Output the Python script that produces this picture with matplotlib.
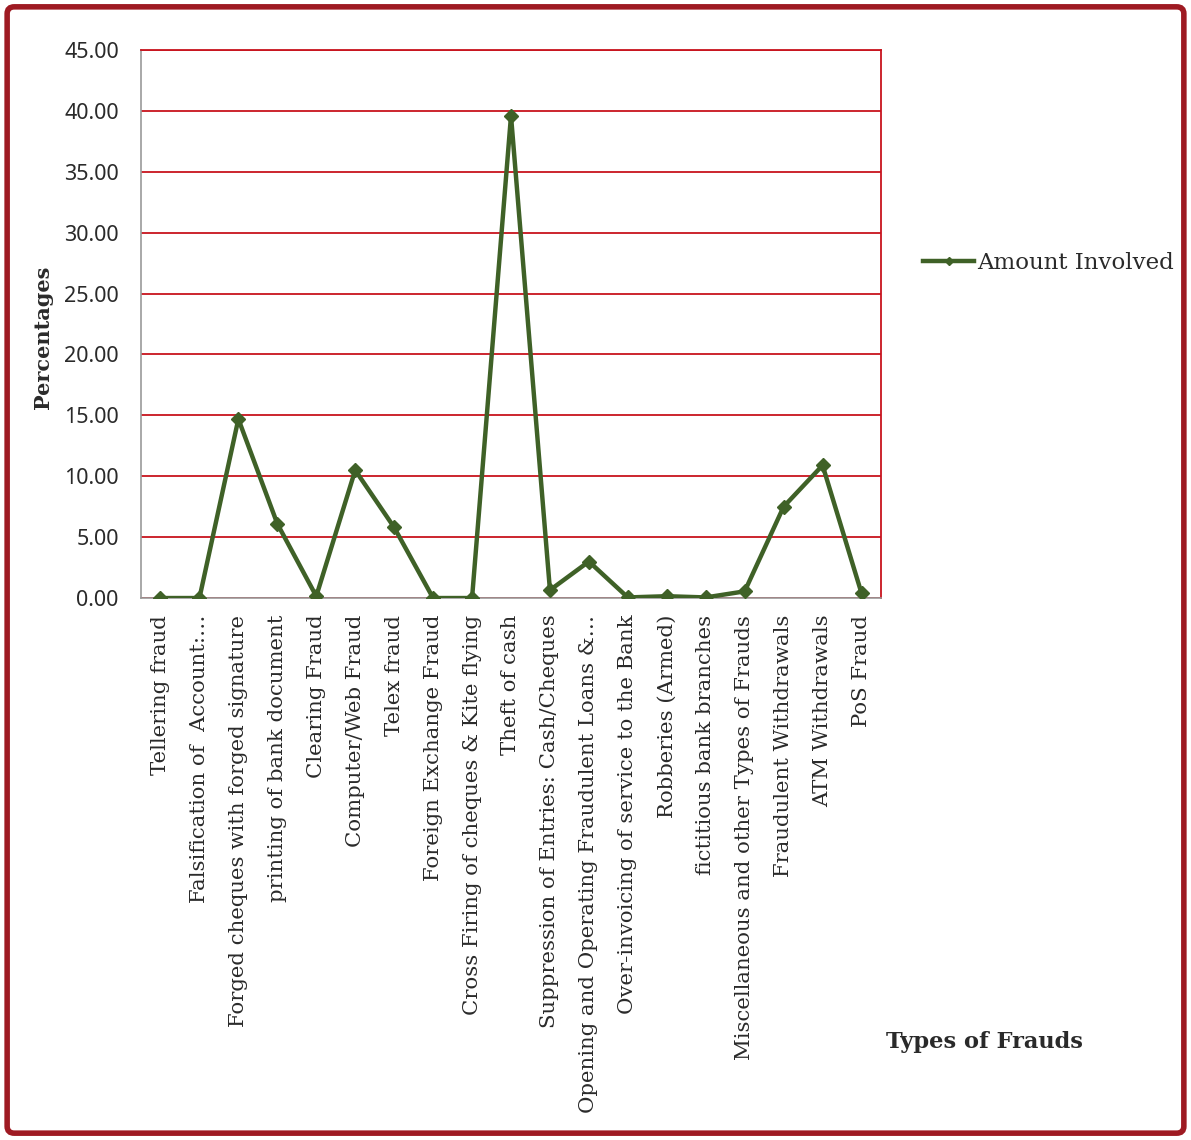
import matplotlib
matplotlib.use("Agg")
import matplotlib.pyplot as plt
from matplotlib.patches import FancyBboxPatch

categories = [
    "Tellering fraud",
    "Falsification of  Account:\u2026",
    "Forged cheques with forged signature",
    "printing of bank document",
    "Clearing Fraud",
    "Computer/Web Fraud",
    "Telex fraud",
    "Foreign Exchange Fraud",
    "Cross Firing of cheques & Kite flying",
    "Theft of cash",
    "Suppression of Entries: Cash/Cheques",
    "Opening and Operating Fraudulent Loans &\u2026",
    "Over-invoicing of service to the Bank",
    "Robberies (Armed)",
    "fictitious bank branches",
    "Miscellaneous and other Types of Frauds",
    "Fraudulent Withdrawals",
    "ATM Withdrawals",
    "PoS Fraud",
]
amount_involved = [0.0, 0.0, 14.7, 6.1, 0.15, 10.5, 5.8, 0.0, 0.0, 39.6,
                   0.65, 3.0, 0.05, 0.15, 0.05, 0.55, 7.5, 10.9, 0.4]
y_ticks = [0, 5, 10, 15, 20, 25, 30, 35, 40, 45]

GREEN = "#3F6127"
RED = "#C8141E"
SERIF = "DejaVu Serif"
TEXT = "#2a2a2a"

fig = plt.figure(figsize=(11.91, 11.40), dpi=100)
ax = fig.add_axes([0.1184, 0.4754, 0.6213, 0.4807])

x = list(range(len(categories)))
ax.plot(x, amount_involved, color=GREEN, linewidth=3.2, marker="D",
        markersize=7.5, label="Amount Involved", zorder=3)

ax.set_xlim(-0.5, len(categories) - 0.5)
ax.set_ylim(0, 45)
ax.set_yticks(y_ticks)
ax.set_yticklabels([f"{v:.2f}" for v in y_ticks], family="Noto Sans",
                   fontsize=15.5, color=TEXT)
ax.set_xticks(x)
ax.set_xticklabels(categories, rotation=90, family=SERIF, fontsize=15.3,
                   color=TEXT, va="top", ha="center")
ax.tick_params(axis="y", length=0, pad=16)
ax.tick_params(axis="x", length=0, pad=12)

ax.grid(axis="y", color=RED, linewidth=1.3)
ax.set_axisbelow(True)
for side in ("top", "right"):
    ax.spines[side].set_color(RED)
    ax.spines[side].set_linewidth(1.3)
for side in ("left", "bottom"):
    ax.spines[side].set_color("#999999")
    ax.spines[side].set_linewidth(1.2)

fig.text(0.036, 0.704, "Percentages", rotation=90, family=SERIF,
         fontweight="bold", fontsize=15, ha="center", va="center", color=TEXT)
fig.text(0.744, 0.086, "Types of Frauds", family=SERIF,
         fontweight="bold", fontsize=16.2, ha="left", va="center", color=TEXT)

fig.legend(loc="center left", bbox_to_anchor=(0.758, 0.769), frameon=False,
           prop={"family": SERIF, "size": 16.5}, handlelength=2.2,
           handletextpad=0.15, markerscale=0.6, labelcolor=TEXT)

border = FancyBboxPatch((0.006, 0.006), 0.988, 0.988,
                        boxstyle="round,pad=0,rounding_size=0.006",
                        transform=fig.transFigure, fill=False,
                        edgecolor="#9E1A22", linewidth=4, zorder=10)
fig.patches.append(border)

fig.savefig("out.png", dpi=100)
